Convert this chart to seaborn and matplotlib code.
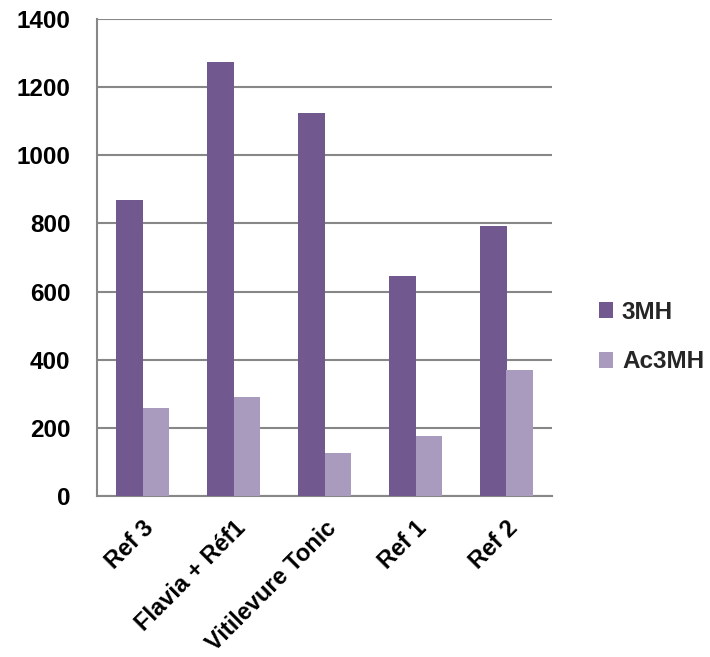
import matplotlib
matplotlib.use("Agg")
import matplotlib.pyplot as plt
import matplotlib.transforms as mtransforms
import seaborn as sns
import pandas as pd
from matplotlib.patches import Patch

categories = ["Ref 3", "Flavia + Réf1", "Vitilevure Tonic", "Ref 1", "Ref 2"]
series_names = ["3MH", "Ac3MH"]
values_3mh = [868, 1274, 1125, 647, 791]
values_ac3mh = [258, 292, 126, 176, 371]
y_ticks = [0, 200, 400, 600, 800, 1000, 1200, 1400]

colors = {"3MH": "#71588F", "Ac3MH": "#A99BBD"}
grid_color = "#878787"

df = pd.DataFrame({
    "category": categories * 2,
    "series": [series_names[0]] * len(categories) + [series_names[1]] * len(categories),
    "value": values_3mh + values_ac3mh,
})

sns.set_theme(style="white")
plt.rcParams["font.family"] = ["Liberation Sans", "DejaVu Sans"]

fig = plt.figure(figsize=(7.10, 6.57), dpi=100)
ax = fig.add_axes([97 / 710, 1 - 496 / 657, (552 - 97) / 710, (496 - 19) / 657])

sns.barplot(data=df, x="category", y="value", hue="series", order=categories,
            hue_order=series_names, palette=colors, width=0.58, saturation=1,
            linewidth=0, legend=False, ax=ax, zorder=3)

label_font = {"fontsize": 17.5, "fontweight": "bold"}

ax.set_ylim(0, 1400)
ax.set_xlim(-0.5, len(categories) - 0.5)
ax.set_yticks(y_ticks)
ax.set_yticklabels([str(t) for t in y_ticks], **label_font)
ax.yaxis.grid(True, color=grid_color, linewidth=1.5, zorder=0)
ax.set_axisbelow(True)

# category ticks sit between groups, labels at group centres
ax.set_xticks(range(len(categories)))
ax.set_xticklabels(categories, rotation=45, ha="right", va="top",
                   rotation_mode="anchor", fontsize=17, fontweight="bold")
shift = mtransforms.ScaledTranslation(-5 / 100, 0, fig.dpi_scale_trans)
for lbl in ax.get_xticklabels():
    lbl.set_transform(lbl.get_transform() + shift)
ax.set_xticks([i - 0.5 for i in range(len(categories) + 1)], minor=True)
ax.tick_params(axis="x", which="major", length=0, pad=15)
ax.tick_params(axis="x", which="minor", length=6, width=1.5, color=grid_color, direction="out")
ax.tick_params(axis="y", length=6, width=1.5, color=grid_color, direction="out", pad=13)
ax.tick_params(axis="both", labelcolor="black")

for side in ["top", "right"]:
    ax.spines[side].set_visible(False)
for side in ["left", "bottom"]:
    ax.spines[side].set_color(grid_color)
    ax.spines[side].set_linewidth(1.5)

ax.set_xlabel("")
ax.set_ylabel("")

handles = [Patch(facecolor=colors[s], edgecolor="none", label=s) for s in series_names]
fig.legend(handles=handles, loc="center left", bbox_to_anchor=(577 / 710, 1 - 337 / 657),
           frameon=False, handlelength=0.6, handleheight=0.6, handletextpad=0.35,
           labelspacing=1.1, prop={"weight": "bold", "size": 17.5})

fig.savefig("out.png", dpi=100, facecolor="white")
